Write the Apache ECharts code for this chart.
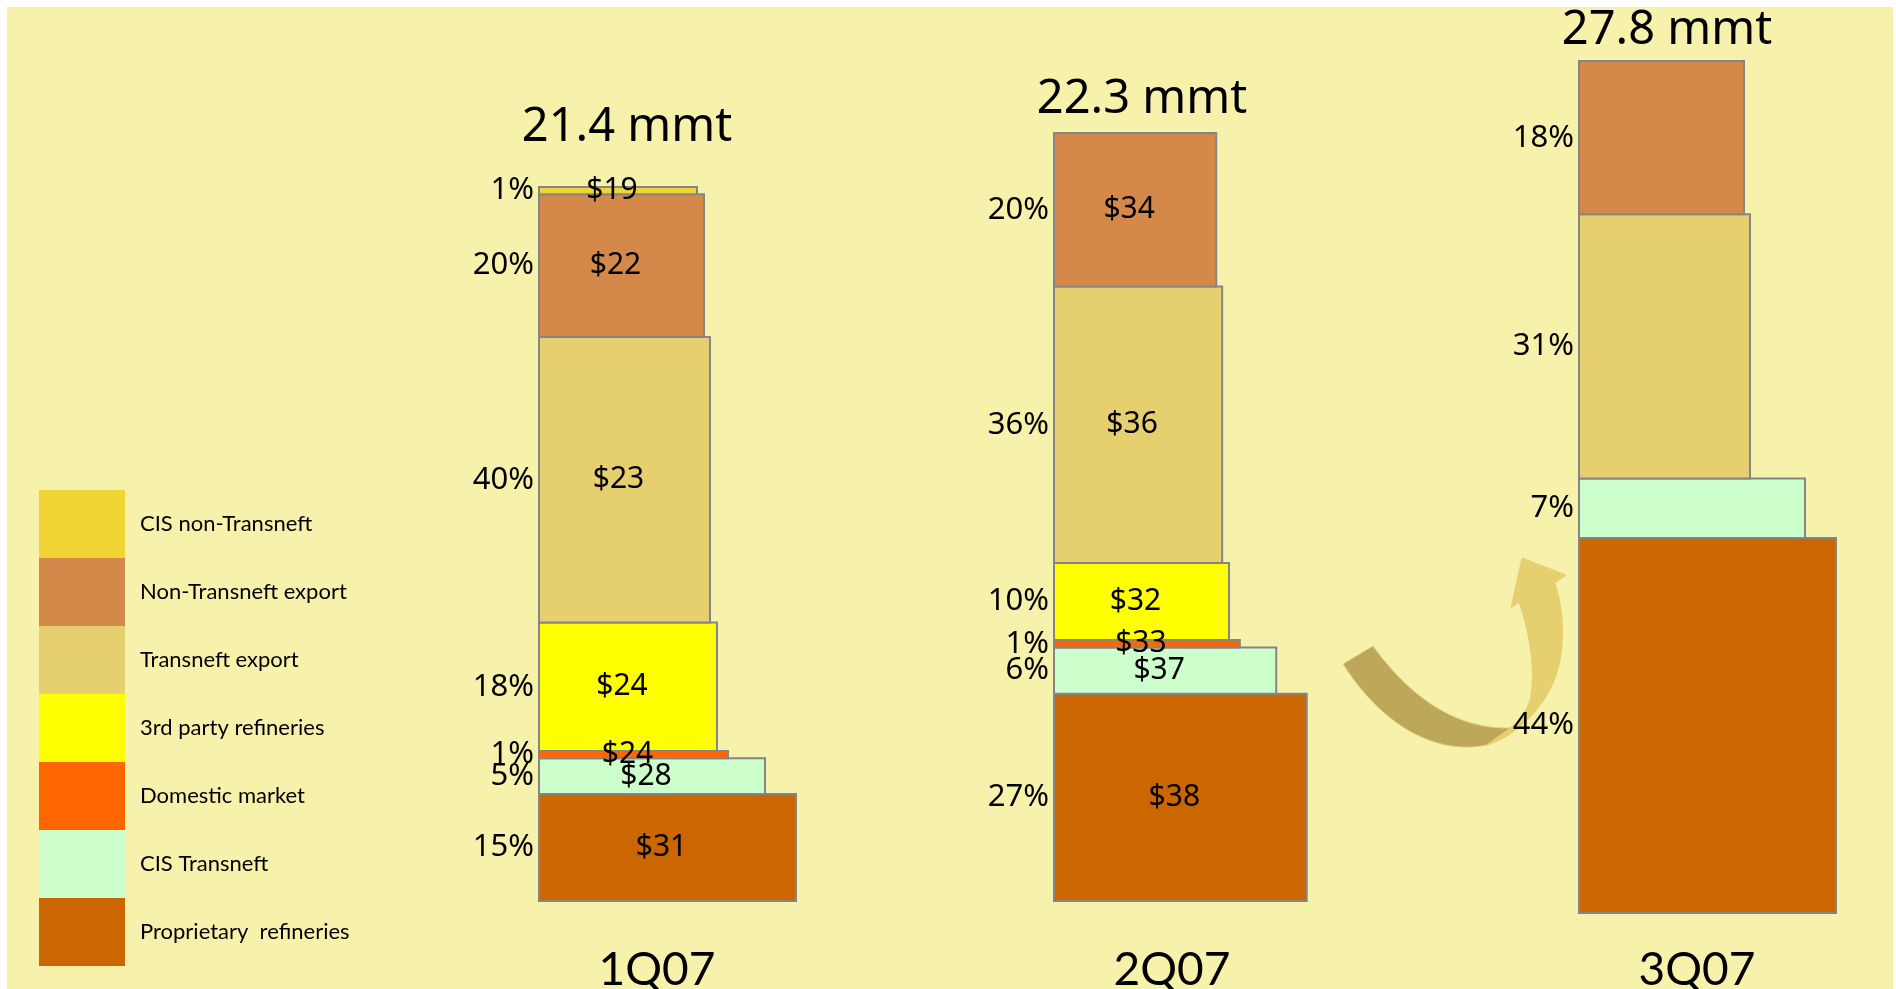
<!DOCTYPE html>
<html>
<head>
<meta charset="utf-8">
<title>Crude sales mix by channel</title>
<script src="https://cdn.jsdelivr.net/npm/echarts@6/dist/echarts.min.js"></script>
<style>
  html, body { margin: 0; padding: 0; background: #ffffff; }
  #chart { width: 1896px; height: 989px; }
</style>
</head>
<body>
<div id="chart"></div>
<script>
// ---- data ----
const quarters = ['1Q07', '2Q07', '3Q07'];
const volumes = [21.4, 22.3, 27.8]; // total volume, mmt

const segments = [
  'CIS non-Transneft',
  'Non-Transneft export',
  'Transneft export',
  '3rd party refineries',
  'Domestic market',
  'CIS Transneft',
  'Proprietary  refineries'
];

// share of volume by channel, % (one value per quarter)
const shareCisNonTransneft = [1, 0, 0];
const shareNonTransneftExport = [20, 20, 18];
const shareTransneftExport = [40, 36, 31];
const shareThirdPartyRefineries = [18, 10, 0];
const shareDomesticMarket = [1, 1, 0];
const shareCisTransneft = [5, 6, 7];
const shareProprietaryRefineries = [15, 27, 44];

// netback by channel, $ (null where not shown)
const priceCisNonTransneft = [19, null, null];
const priceNonTransneftExport = [22, 34, null];
const priceTransneftExport = [23, 36, null];
const priceThirdPartyRefineries = [24, 32, null];
const priceDomesticMarket = [24, 33, null];
const priceCisTransneft = [28, 37, null];
const priceProprietaryRefineries = [31, 38, null];

const shares = [
  shareCisNonTransneft, shareNonTransneftExport, shareTransneftExport,
  shareThirdPartyRefineries, shareDomesticMarket, shareCisTransneft,
  shareProprietaryRefineries
];
const prices = [
  priceCisNonTransneft, priceNonTransneftExport, priceTransneftExport,
  priceThirdPartyRefineries, priceDomesticMarket, priceCisTransneft,
  priceProprietaryRefineries
];

// ---- styles ----
const colors = ['#F0D535', '#D4894A', '#E5CF6E', '#FFFF00', '#FF6600', '#CCFFCC', '#CC6600'];
// tier width of each channel block, in x-axis units (stair-step look)
const tierWidth = [158, 165, 171, 178, 189, 226, 257];
// stacking order, bottom to top
const stackOrder = [6, 5, 4, 3, 2, 1, 0];

// one column per quarter, each in its own grid
const columns = [
  { left: 539, top: 187, height: 714, width: 300, titleY: 128 },
  { left: 1054, top: 133, height: 768, width: 295, titleY: 100 },
  { left: 1579, top: 61, height: 852, width: 300, titleY: 31 }
];

const valueFont = '"Noto Sans", Roboto, sans-serif';

function makeRenderer(segIdx, price) {
  return function (params, api) {
    const share = api.value(0);
    const base = api.value(1);
    const p0 = api.coord([0, base]);
    const p1 = api.coord([tierWidth[segIdx], base + share]);
    const x = p0[0], y = p1[1];
    const w = p1[0] - p0[0], h = p0[1] - p1[1];
    const cy = y + h / 2;
    const children = [
      {
        type: 'rect', z2: 1,
        shape: { x: x, y: y, width: w, height: h },
        style: { fill: colors[segIdx], stroke: '#858585', lineWidth: 2 }
      },
      {
        type: 'text', z2: 20,
        style: {
          text: share + '%', x: x - 5, y: cy, align: 'right', verticalAlign: 'middle',
          fontSize: 31, fontFamily: valueFont, fill: '#000000'
        }
      }
    ];
    if (price !== null) {
      children.push({
        type: 'text', z2: 20,
        style: {
          text: '$' + price, x: x + w / 2 - 6, y: cy, align: 'center', verticalAlign: 'middle',
          fontSize: 30, fontFamily: valueFont, fill: '#000000'
        }
      });
    }
    return { type: 'group', children: children };
  };
}

const grids = [], xAxes = [], yAxes = [], series = [];
columns.forEach(function (c, q) {
  grids.push({ left: c.left, top: c.top, width: c.width, height: c.height, containLabel: false });
  xAxes.push({ type: 'value', gridIndex: q, min: 0, max: 300, show: false });
  yAxes.push({ type: 'value', gridIndex: q, min: 0, max: 100, show: false });
  let cumulative = 0;
  stackOrder.forEach(function (s) {
    const share = shares[s][q];
    if (share > 0) {
      series.push({
        type: 'custom',
        name: segments[s],
        xAxisIndex: q,
        yAxisIndex: q,
        itemStyle: { color: colors[s] },
        data: [[share, cumulative]],
        renderItem: makeRenderer(s, prices[s][q])
      });
      cumulative += share;
    }
  });
});

// curved arrow outline: sample cubic segments into polygon points
function outline(start, cmds) {
  const pts = [start.slice()];
  let cur = start;
  cmds.forEach(function (c) {
    if (c.length === 1) {
      pts.push(c[0].slice());
      cur = c[0];
    } else {
      const a = cur, b = c[0], d = c[1], e = c[2];
      for (let i = 1; i <= 24; i++) {
        const t = i / 24, u = 1 - t;
        pts.push([
          u * u * u * a[0] + 3 * u * u * t * b[0] + 3 * u * t * t * d[0] + t * t * t * e[0],
          u * u * u * a[1] + 3 * u * u * t * b[1] + 3 * u * t * t * d[1] + t * t * t * e[1]
        ]);
      }
      cur = e;
    }
  });
  return pts;
}
const arrowBack = outline([1343, 664], [
  [[1373, 646]],
  [[1405, 690], [1450, 730], [1512, 728]],
  [[1487, 745]],
  [[1440, 755], [1385, 730], [1343, 664]]
]);
const arrowFront = outline([1487, 745], [
  [[1520, 735], [1553, 700], [1560, 660]],
  [[1566, 625], [1560, 600], [1555, 583]],
  [[1566, 575]],
  [[1522, 558]],
  [[1511, 608]],
  [[1519, 602]],
  [[1530, 635], [1536, 670], [1530, 700]],
  [[1525, 715], [1518, 722], [1510, 728]]
]);

// column titles (total volume) and quarter labels
const texts = [];
columns.forEach(function (c, q) {
  texts.push({
    type: 'text', z: 5,
    style: {
      text: volumes[q].toFixed(1) + ' mmt', x: c.left + 88, y: c.titleY,
      align: 'center', verticalAlign: 'middle',
      fontSize: 47, fontFamily: valueFont, fill: '#000000'
    }
  });
  texts.push({
    type: 'text', z: 5,
    style: {
      text: quarters[q], x: c.left + 118, y: 970,
      align: 'center', verticalAlign: 'middle',
      fontSize: 46, fontFamily: 'Lato, sans-serif', fill: '#000000'
    }
  });
});

const chart = echarts.init(document.getElementById('chart'), null, { renderer: 'canvas' });
chart.setOption({
  animation: false,
  backgroundColor: '#ffffff',
  grid: grids,
  xAxis: xAxes,
  yAxis: yAxes,
  legend: {
    orient: 'vertical',
    left: 39,
    top: 490,
    padding: 0,
    itemGap: 0,
    itemWidth: 86,
    itemHeight: 68,
    icon: 'rect',
    selectedMode: false,
    data: segments,
    textStyle: { fontFamily: 'Lato, sans-serif', fontSize: 22, color: '#000000', padding: [0, 0, 0, 10] }
  },
  graphic: [
    {
      type: 'rect', z: -10, silent: true,
      shape: { x: 7, y: 7, width: 1886, height: 982 },
      style: { fill: '#F7F2AB' }
    },
    {
      type: 'polygon', z: 1, silent: true,
      shape: { points: arrowBack },
      style: { fill: '#BDA75A', stroke: '#E6CF6F', lineWidth: 1 }
    },
    {
      type: 'polygon', z: 1, silent: true,
      shape: { points: arrowFront },
      style: { fill: '#E6CF6F', stroke: '#E6CF6F', lineWidth: 1 }
    }
  ].concat(texts),
  series: series
});
</script>
</body>
</html>
